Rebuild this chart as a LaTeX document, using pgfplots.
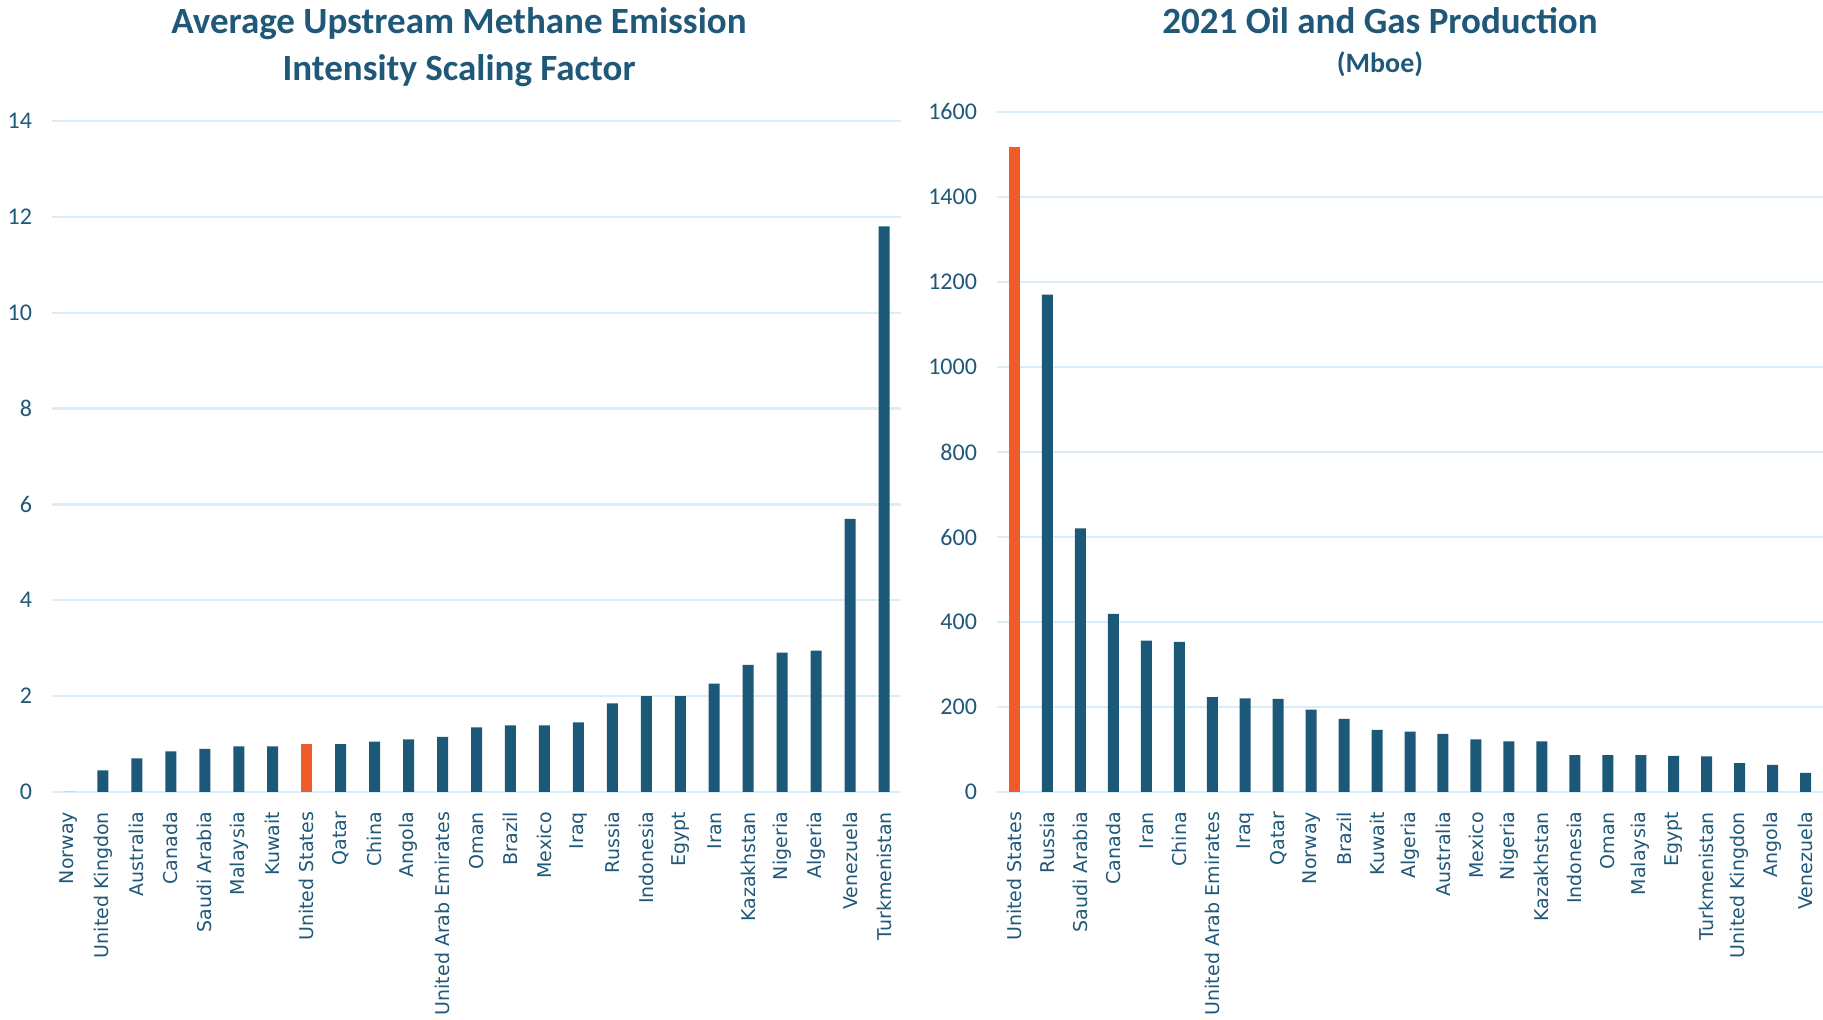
\documentclass[border=0pt]{standalone}
\usepackage{pgfplots}
\pgfplotsset{compat=1.18}
\usepackage{fontspec}
\setmainfont{Carlito}
\newfontfamily\catfont{DejaVu Sans}
\definecolor{barblue}{RGB}{28,88,120}
\definecolor{usorange}{RGB}{241,90,41}
\definecolor{gridblue}{RGB}{218,236,247}
\definecolor{txtblue}{RGB}{31,88,120}
\pgfplotsset{
  common/.style={
    scale only axis,
    axis line style={draw=none},
    ymajorgrids,
    grid style={gridblue, line width=1.2pt},
    major tick style={draw=none},
    xtick={0,...,24},
    xmin=-0.5, xmax=24.5,
    ymin=0,
    tick label style={text=txtblue},
    yticklabel style={font=\fontsize{12}{14}\selectfont, xshift=-6.5pt},
    xticklabel style={font=\catfont\fontsize{9.5}{11}\selectfont, yshift=-6.5pt, rotate=90, anchor=east},
    /pgf/number format/assume math mode=true,
    /pgf/number format/set thousands separator={},
    clip=false,
  },
}
\begin{document}
\begin{tikzpicture}
\path[use as bounding box] (0,0) rectangle (911.5pt,510pt);
\begin{axis}[common,
  at={(26pt,114pt)}, anchor=south west,
  width=424.5pt, height=335.5pt,
  ymax=14, ytick={0,2,...,14},
  xticklabels={Norway,United Kingdon,Australia,Canada,Saudi Arabia,Malaysia,Kuwait,United States,Qatar,China,Angola,United Arab Emirates,Oman,Brazil,Mexico,Iraq,Russia,Indonesia,Egypt,Iran,Kazakhstan,Nigeria,Algeria,Venezuela,Turkmenistan},
]
\addplot[ybar, bar width=5.5pt, bar shift=0pt, fill=barblue, draw=none] coordinates {
(0,0) (1,0.45) (2,0.70) (3,0.85) (4,0.90) (5,0.95) (6,0.95) (8,1.00) (9,1.05) (10,1.10) (11,1.15) (12,1.35) (13,1.39) (14,1.39) (15,1.45) (16,1.85) (17,2.00) (18,2.00) (19,2.26) (20,2.65) (21,2.91) (22,2.95) (23,5.70) (24,11.80)
};
\addplot[ybar, bar width=5.5pt, bar shift=0pt, fill=usorange, draw=none] coordinates {(7,1.00)};
\end{axis}
\begin{axis}[common,
  at={(498.5pt,114pt)}, anchor=south west,
  width=413pt, height=340pt,
  xmin=-0.53, xmax=24.53,
  ymax=1600, ytick={0,200,...,1600},
  xticklabels={United States,Russia,Saudi Arabia,Canada,Iran,China,United Arab Emirates,Iraq,Qatar,Norway,Brazil,Kuwait,Algeria,Australia,Mexico,Nigeria,Kazakhstan,Indonesia,Oman,Malaysia,Egypt,Turkmenistan,United Kingdon,Angola,Venezuela},
]
\addplot[ybar, bar width=5.5pt, bar shift=0pt, fill=barblue, draw=none] coordinates {
(1,1170) (2,620) (3,419) (4,356) (5,353) (6,223) (7,220) (8,219) (9,194) (10,172) (11,146) (12,142) (13,137) (14,124) (15,119) (16,119) (17,87) (18,87) (19,87) (20,85) (21,84) (22,68) (23,64) (24,45)
};
\addplot[ybar, bar width=5.5pt, bar shift=0pt, fill=usorange, draw=none] coordinates {(0,1517)};
\end{axis}
\node[text=txtblue, font=\bfseries\fontsize{18.5}{22}\selectfont] at (229.5pt,498.3pt) {Average Upstream Methane Emission};
\node[text=txtblue, font=\bfseries\fontsize{18.5}{22}\selectfont] at (229.5pt,474.7pt) {Intensity Scaling Factor};
\node[text=txtblue, font=\bfseries\fontsize{18.5}{22}\selectfont] at (690pt,499.5pt) {2021 Oil and Gas Production};
\node[text=txtblue, font=\bfseries\fontsize{14}{17}\selectfont] at (690pt,478pt) {(Mboe)};
\end{tikzpicture}
\end{document}
